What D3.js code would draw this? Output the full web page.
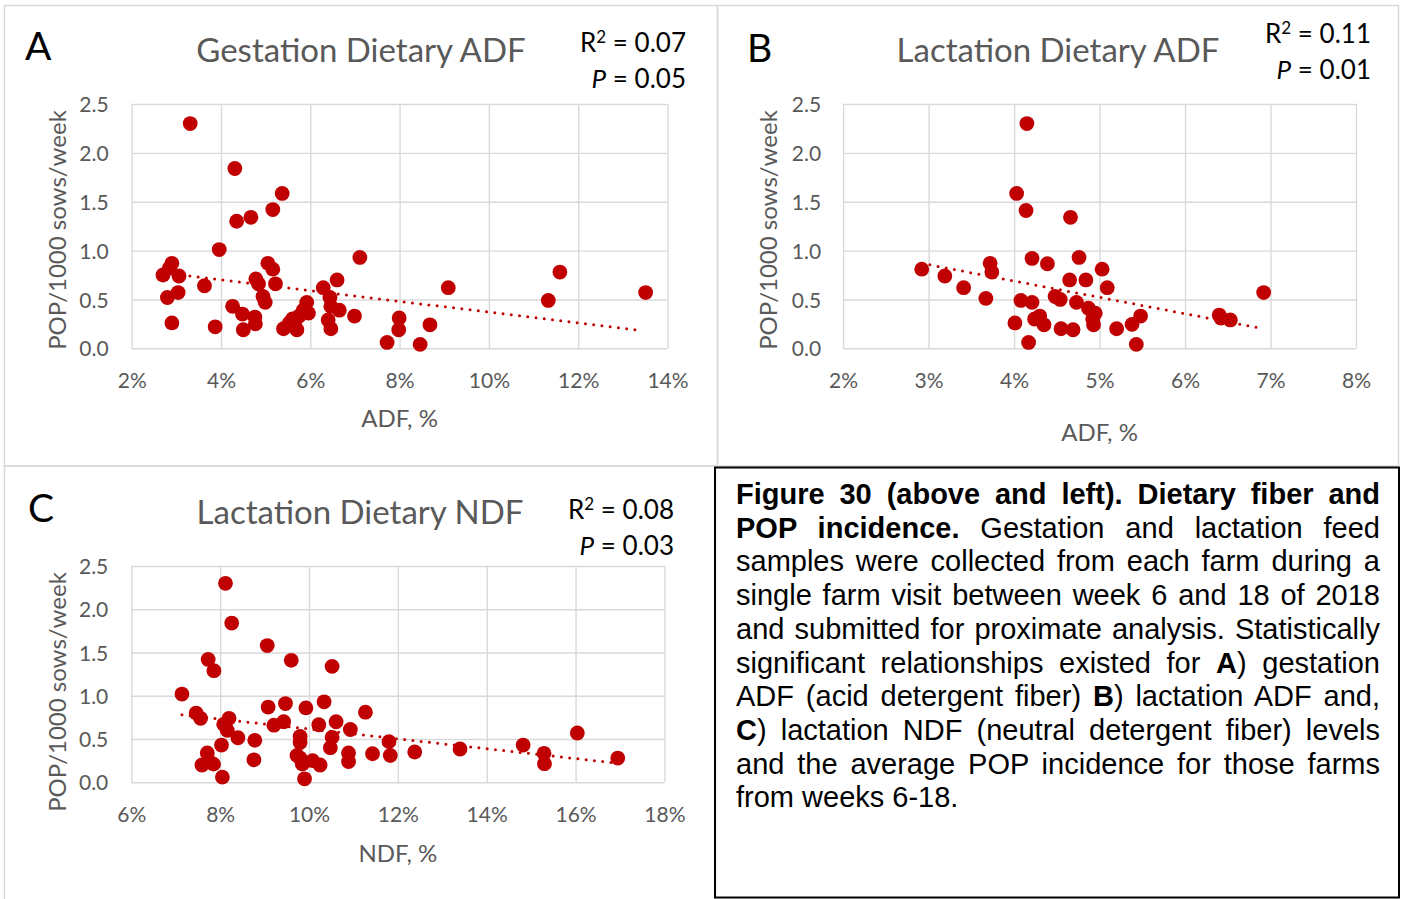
<!DOCTYPE html>
<html>
<head>
<meta charset="utf-8">
<script src="https://cdn.jsdelivr.net/npm/d3@7"></script>
<style>
  body { margin: 0; background: #fff; }
  #fig { position: relative; width: 1403px; height: 899px; overflow: hidden; }
  #fig svg { position: absolute; left: 0; top: 0; }
  #caption {
    position: absolute; left: 736px; top: 478px; width: 644px;
    font-family: "Liberation Sans", Arial, sans-serif; font-size: 29px; line-height: 33.7px; color: #000;
  }
  #caption span { display: block; white-space: nowrap; text-align: justify; text-align-last: justify; }
  #caption span.last { text-align-last: left; }
</style>
</head>
<body>
<div id="fig"></div>
<script>
// --- data (fiber %, POP per 1000 sows per week) ---
const gestationADF = [
  [3.31, 2.30], [4.31, 1.84], [5.37, 1.585], [5.16, 1.42], [4.35, 1.30], [4.67, 1.34], [3.96, 1.01],
  [2.70, 0.75], [2.84, 0.82], [2.90, 0.87], [3.06, 0.74], [2.80, 0.52], [3.04, 0.57], [2.90, 0.26],
  [3.63, 0.64], [3.87, 0.22], [4.26, 0.43], [4.48, 0.35], [4.50, 0.19], [4.76, 0.32], [4.77, 0.25],
  [4.78, 0.71], [4.84, 0.66], [5.05, 0.87], [5.16, 0.81], [5.22, 0.66], [4.94, 0.53], [4.99, 0.47],
  [5.40, 0.20], [5.53, 0.26], [5.60, 0.30], [5.65, 0.24], [5.70, 0.19], [5.75, 0.33], [5.84, 0.39],
  [5.92, 0.47], [5.96, 0.36], [6.29, 0.62], [6.60, 0.70], [6.44, 0.52], [6.46, 0.43], [6.65, 0.39],
  [6.40, 0.29], [6.46, 0.20], [6.99, 0.33], [7.11, 0.93], [7.72, 0.06], [7.99, 0.31], [7.98, 0.19],
  [8.46, 0.04], [8.68, 0.24], [9.09, 0.62], [11.33, 0.49], [11.59, 0.78], [13.51, 0.57],
];
const lactationADF = [
  [4.15, 2.30], [4.03, 1.585], [4.14, 1.41], [4.66, 1.34], [2.92, 0.81], [3.19, 0.74], [3.41, 0.62],
  [3.67, 0.51], [3.72, 0.87], [3.74, 0.78], [4.21, 0.92], [4.39, 0.865], [4.76, 0.93], [5.03, 0.81],
  [4.65, 0.70], [4.84, 0.70], [5.09, 0.62], [4.08, 0.49], [4.21, 0.47], [4.48, 0.53], [4.54, 0.50],
  [4.73, 0.47], [4.87, 0.41], [4.95, 0.36], [4.92, 0.30], [4.93, 0.24], [4.01, 0.26], [4.30, 0.33],
  [4.24, 0.30], [4.35, 0.24], [4.17, 0.06], [4.55, 0.20], [4.69, 0.19], [5.20, 0.20], [5.38, 0.245],
  [5.48, 0.33], [5.43, 0.04], [6.40, 0.34], [6.42, 0.31], [6.53, 0.29], [6.92, 0.57],
];
const lactationNDF = [
  [8.12, 2.30], [8.26, 1.84], [9.06, 1.58], [9.60, 1.41], [10.52, 1.34], [7.73, 1.42], [7.86, 1.29],
  [7.14, 1.02], [7.46, 0.80], [7.56, 0.74], [8.20, 0.74], [8.08, 0.67], [8.16, 0.60], [8.40, 0.515],
  [8.03, 0.43], [8.78, 0.485], [8.76, 0.26], [7.71, 0.34], [7.59, 0.20], [7.85, 0.21], [7.75, 0.24],
  [8.05, 0.06], [9.08, 0.87], [9.47, 0.91], [9.93, 0.86], [10.34, 0.93], [11.27, 0.81], [9.21, 0.66],
  [9.43, 0.70], [10.22, 0.665], [10.61, 0.70], [10.93, 0.61], [9.80, 0.53], [9.80, 0.46], [10.52, 0.52],
  [10.48, 0.40], [9.73, 0.31], [9.85, 0.21], [10.08, 0.25], [10.25, 0.20], [9.90, 0.04], [9.80, 0.28],
  [10.89, 0.34], [10.89, 0.24], [11.43, 0.33], [11.80, 0.47], [11.83, 0.31], [12.38, 0.35],
  [13.40, 0.385], [14.82, 0.43], [15.29, 0.335], [15.30, 0.215], [16.04, 0.57], [16.95, 0.28],
];

// linear trendline end points, as drawn in the figure
const trendGestADF = [[2.75, 0.77], [13.45, 0.18]];
const trendLactADF = [[2.92, 0.87], [6.92, 0.20]];
const trendLactNDF = [[7.14, 0.78], [16.95, 0.22]];

const popTicks = [0, 0.5, 1.0, 1.5, 2.0, 2.5];
const gestADFTicks = [2, 4, 6, 8, 10, 12, 14];
const lactADFTicks = [2, 3, 4, 5, 6, 7, 8];
const lactNDFTicks = [6, 8, 10, 12, 14, 16, 18];

const panelLetters = ['A', 'B', 'C'];
const panelTitles = ['Gestation Dietary ADF', 'Lactation Dietary ADF', 'Lactation Dietary NDF'];
const xTitles = ['ADF, %', 'ADF, %', 'NDF, %'];
const yTitle = 'POP/1000 sows/week';
const r2Values = ['0.07', '0.11', '0.08'];
const pValues = ['0.05', '0.01', '0.03'];

const captionLines = [
  '<b>Figure 30 (above and left). Dietary fiber and</b>',
  '<b>POP incidence.</b> Gestation and lactation feed',
  'samples were collected from each farm during a',
  'single farm visit between week 6 and 18 of 2018',
  'and submitted for proximate analysis. Statistically',
  'significant relationships existed for <b>A</b>) gestation',
  'ADF (acid detergent fiber) <b>B</b>) lactation ADF and,',
  '<b>C</b>) lactation NDF (neutral detergent fiber) levels',
  'and the average POP incidence for those farms',
  'from weeks 6-18.',
];

const RED = '#c00000';
const GRID = '#d9d9d9';
const GREY = '#595959';
const FONT = 'Lato, "Open Sans", sans-serif';

const svg = d3.select('#fig').append('svg')
  .attr('width', 1403)
  .attr('height', 899);

// panel frames
svg.append('rect').attr('x', 4.5).attr('y', 5.5).attr('width', 713).attr('height', 460.5)
  .attr('fill', 'none').attr('stroke', GRID).attr('stroke-width', 1.5);
svg.append('rect').attr('x', 717.5).attr('y', 5.5).attr('width', 681).attr('height', 460.5)
  .attr('fill', 'none').attr('stroke', GRID).attr('stroke-width', 1.5);
svg.append('rect').attr('x', 4.5).attr('y', 466).attr('width', 711).attr('height', 450)
  .attr('fill', 'none').attr('stroke', GRID).attr('stroke-width', 1.5);

function drawPanel(p) {
  const g = svg.append('g');
  const x = d3.scaleLinear().domain(d3.extent(p.xTicks)).range([p.left, p.right]);
  const y = d3.scaleLinear().domain([0, 2.5]).range([p.bottom, p.top]);

  g.append('g')
    .attr('transform', `translate(${p.left},0)`)
    .call(d3.axisLeft(y).tickValues(popTicks).tickSize(-(p.right - p.left))
      .tickPadding(p.yPad).tickFormat(d3.format('.1f')))
    .call((a) => a.select('.domain').remove())
    .call((a) => a.selectAll('line').attr('stroke', GRID).attr('stroke-width', 1.4))
    .call((a) => a.selectAll('text').attr('fill', GREY).attr('font-family', FONT)
      .attr('font-size', 21).attr('dy', '0.36em'));

  g.append('g')
    .attr('transform', `translate(0,${p.bottom})`)
    .call(d3.axisBottom(x).tickValues(p.xTicks).tickSize(-(p.bottom - p.top))
      .tickFormat((d) => `${d}%`))
    .call((a) => a.select('.domain').remove())
    .call((a) => a.selectAll('line').attr('stroke', GRID).attr('stroke-width', 1.4))
    .call((a) => a.selectAll('text').attr('fill', GREY).attr('font-family', FONT)
      .attr('font-size', 21).attr('y', 32).attr('dy', '0.36em'));

  g.append('line')
    .attr('x1', x(p.trend[0][0])).attr('y1', y(p.trend[0][1]))
    .attr('x2', x(p.trend[1][0])).attr('y2', y(p.trend[1][1]))
    .attr('stroke', RED)
    .attr('stroke-width', 3)
    .attr('stroke-linecap', 'round')
    .attr('stroke-dasharray', '0 8.3');

  g.append('g').selectAll('circle')
    .data(p.data)
    .join('circle')
    .attr('cx', (d) => x(d[0]))
    .attr('cy', (d) => y(d[1]))
    .attr('r', 7.4)
    .attr('fill', RED);

  g.append('text')
    .attr('x', p.letter[0]).attr('y', p.letter[1])
    .attr('dy', '0.36em')
    .attr('font-family', FONT).attr('font-size', 39).attr('fill', '#000')
    .text(panelLetters[p.i]);

  g.append('text')
    .attr('x', p.title[0]).attr('y', p.title[1])
    .attr('dy', '0.36em').attr('text-anchor', 'middle')
    .attr('font-family', FONT).attr('font-size', 33).attr('fill', GREY)
    .text(panelTitles[p.i]);

  const r2 = g.append('text')
    .attr('x', p.statX).attr('y', p.r2Y)
    .attr('dy', '0.36em').attr('text-anchor', 'end')
    .attr('font-family', FONT).attr('font-size', 26).attr('fill', '#000');
  r2.append('tspan').text('R');
  r2.append('tspan').attr('font-size', 17).attr('dy', '-0.55em').text('2');
  r2.append('tspan').attr('dy', '0.36em').text(` = ${r2Values[p.i]}`);

  const pv = g.append('text')
    .attr('x', p.statX).attr('y', p.pY)
    .attr('dy', '0.36em').attr('text-anchor', 'end')
    .attr('font-family', FONT).attr('font-size', 26).attr('fill', '#000');
  pv.append('tspan').attr('font-style', 'italic').text('P');
  pv.append('tspan').text(` = ${pValues[p.i]}`);

  g.append('text')
    .attr('x', (p.left + p.right) / 2).attr('y', p.xTitleY)
    .attr('dy', '0.36em').attr('text-anchor', 'middle')
    .attr('font-family', FONT).attr('font-size', 24).attr('fill', GREY)
    .text(xTitles[p.i]);

  g.append('text')
    .attr('transform', `translate(${p.yTitle[0]},${p.yTitle[1]}) rotate(-90)`)
    .attr('dy', '0.36em').attr('text-anchor', 'middle')
    .attr('font-family', FONT).attr('font-size', 24).attr('fill', GREY)
    .text(yTitle);
}

drawPanel({
  i: 0, data: gestationADF, trend: trendGestADF, xTicks: gestADFTicks,
  left: 131.7, right: 667.5, top: 104, bottom: 348.3, yPad: 23,
  letter: [25, 46], title: [361, 50], statX: 686, r2Y: 43, pY: 79,
  xTitleY: 418, yTitle: [57, 230],
});
drawPanel({
  i: 1, data: lactationADF, trend: trendLactADF, xTicks: lactADFTicks,
  left: 843.1, right: 1356, top: 104, bottom: 348.3, yPad: 22,
  letter: [747, 48], title: [1058, 50], statX: 1371, r2Y: 34, pY: 70,
  xTitleY: 432, yTitle: [768, 230],
});
drawPanel({
  i: 2, data: lactationNDF, trend: trendLactNDF, xTicks: lactNDFTicks,
  left: 131.3, right: 664.4, top: 566, bottom: 782.3, yPad: 23,
  letter: [28, 508], title: [360, 512], statX: 674, r2Y: 510, pY: 546,
  xTitleY: 853, yTitle: [57, 692],
});

// caption box
svg.append('rect').attr('x', 715).attr('y', 467.5).attr('width', 684).attr('height', 430)
  .attr('fill', 'none').attr('stroke', '#000').attr('stroke-width', 2);

d3.select('#fig').append('div')
  .attr('id', 'caption')
  .selectAll('span')
  .data(captionLines)
  .join('span')
  .attr('class', (d, i) => (i === captionLines.length - 1 ? 'last' : null))
  .html((d) => d);
</script>
</body>
</html>
